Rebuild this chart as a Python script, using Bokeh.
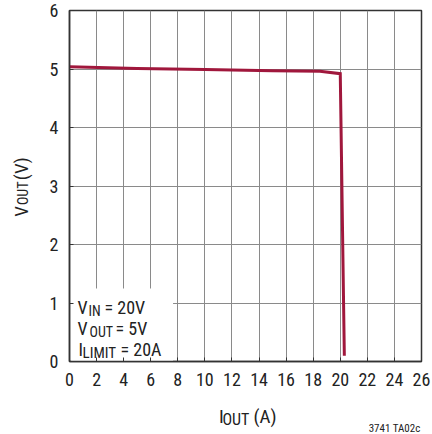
import numpy as np
from bokeh.plotting import figure
from bokeh.layouts import row, column
from bokeh.models import Label, Range1d, FixedTicker
from bokeh.core.properties import value
from bokeh.embed import file_html
from bokeh.resources import INLINE

iout = [0, 5, 10, 15, 18.5, 20.0, 20.3]
vout = [5.04, 5.01, 4.99, 4.97, 4.96, 4.92, 0.1]
x_ticks = list(range(0, 27, 2))
y_ticks = [0, 1, 2, 3, 4, 5, 6]

FONT = "Roboto Condensed, DejaVu Sans Condensed, Liberation Sans"
TXT = "#222222"
YW = 44  # width of left title panel

p = figure(width=432 - YW, height=395, output_backend="svg", toolbar_location=None,
           x_range=Range1d(0, 26), y_range=Range1d(0, 6),
           min_border_left=69 - YW, min_border_right=11, min_border_top=10, min_border_bottom=34)
p.background_fill_color = "white"
p.outline_line_color = "#333333"
p.outline_line_width = 1.5

for ax, ticks in ((p.xaxis, x_ticks), (p.yaxis, y_ticks)):
    ax.ticker = FixedTicker(ticks=ticks)
    ax.major_tick_in = 4
    ax.major_tick_out = 0
    ax.minor_tick_line_color = None
    ax.axis_line_color = "#333333"
    ax.axis_line_width = 1.5
    ax.major_tick_line_color = "#333333"
    ax.major_label_text_font = FONT
    ax.major_label_text_font_size = "18px"
    ax.major_label_text_color = TXT
p.xaxis.major_label_standoff = 11
p.yaxis.major_label_standoff = 11

p.xgrid.ticker = FixedTicker(ticks=x_ticks)
p.ygrid.ticker = FixedTicker(ticks=y_ticks)
p.grid.grid_line_color = "#8a8a8a"
p.grid.grid_line_width = 1

# white box behind the condition notes
p.quad(left=[0.12], right=[7.65], bottom=[0.0], top=[1.25],
       fill_color="white", line_color=None)

p.line(iout, vout, line_color="#A0173C", line_width=3, line_join="miter")


def lab(x, y, t, size="18px"):
    p.add_layout(Label(x=x, y=y, x_units="screen", y_units="screen", text=t,
                       text_font=FONT, text_font_size=size, text_color=TXT,
                       text_align="left", text_baseline="alphabetic"))

lab(8, 54, "V")
lab(19, 51, "IN", "14px")
lab(35, 54, "= 20V")
lab(8, 33, "V")
lab(20, 30, "OUT", "14px")
lab(46, 33, "= 5V")
lab(9, 12, "I")
lab(13, 9, "LIMIT", "15px")
lab(51, 12, "= 20A")


def blank(w, h):
    f = figure(width=w, height=h, output_backend="svg", toolbar_location=None,
               x_range=Range1d(0, w), y_range=Range1d(0, h),
               x_axis_type=None, y_axis_type=None, min_border=0)
    f.grid.visible = False
    f.outline_line_color = None
    return f

# y-axis title panel (left)
yl = blank(YW, 395)
yl.text(x=[20.5, 22.5, 20.5], y=[395 - 232, 395 - 219, 395 - 191],
        text=["V", "OUT", "(V)"], angle=np.pi / 2,
        text_font=value(FONT), text_font_size=["19px", "14px", "19px"],
        text_color=TXT, text_align="left", text_baseline="alphabetic")

# x-axis title + footnote panel (bottom)
xl = blank(432, 39)
xl.text(x=[218.5, 222, 253], y=[434 - 415.7, 434 - 419, 434 - 416],
        text=["I", "OUT", "(A)"],
        text_font=value(FONT), text_font_size=["19px", "16px", "19px"],
        text_color=TXT, text_align="left", text_baseline="alphabetic")
xl.text(x=[420], y=[434 - 428], text=["3741 TA02c"],
        text_font=value(FONT), text_font_size="11px",
        text_color=TXT, text_align="right", text_baseline="alphabetic")

layout = column(row(yl, p, spacing=0), xl, spacing=0)
open("out.html", "w").write(file_html(layout, INLINE))
